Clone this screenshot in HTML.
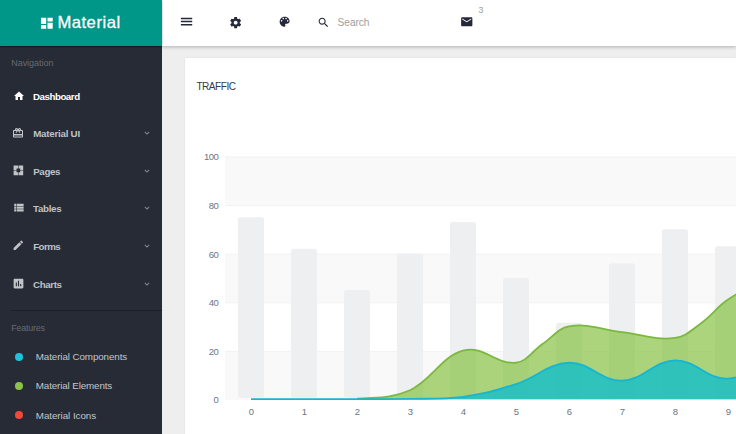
<!DOCTYPE html>
<html><head><meta charset="utf-8"><title>Material</title>
<style>
html,body{margin:0;padding:0}
body{width:736px;height:434px;overflow:hidden;position:relative;background:#eeeeee;font-family:"Liberation Sans",Arial,sans-serif;}
.ic{position:absolute;display:block;overflow:visible}
.t{position:absolute;white-space:nowrap;line-height:20px}
#logot{-webkit-text-stroke:0.3px #fff}
#side{position:absolute;left:0;top:0;width:162px;height:434px;background:#272b35}
#logo{position:absolute;left:0;top:0;width:162px;height:46px;background:#009688;box-shadow:0 1px 1.5px rgba(0,0,0,.45)}
#top{position:absolute;left:162px;top:0;width:574px;height:46px;background:#fff;box-shadow:0 1.5px 3.5px rgba(0,0,0,.24)}
.dot{position:absolute;left:14.5px;width:8px;height:8px;border-radius:50%}
#hr{position:absolute;left:11px;top:309.6px;width:151px;height:1.2px;background:#1c1f26}
#card{position:absolute;left:184.5px;top:57.8px;width:600px;height:420px;background:#fff;box-shadow:0 0.5px 1.5px rgba(0,0,0,.14);border-radius:1px}
#chart{position:absolute;left:0;top:0;width:736px;height:434px}
.ax{font-family:"Liberation Sans",Arial,sans-serif;font-size:9.5px;fill:#6b7684;letter-spacing:-0.55px}
</style></head><body>
<div id="top"></div>
<div id="card"></div>
<div class="t" id="traffic" style="left:196.40px;top:76.50px;font-size:10.1px;font-weight:normal;color:#363949;letter-spacing:-0.487px">TRAFFIC</div>
<svg id="chart" viewBox="0 0 736 434">
<rect x="225" y="157.00" width="520" height="48.60" fill="#f9f9f9"/>
<rect x="225" y="254.20" width="520" height="48.60" fill="#f9f9f9"/>
<rect x="225" y="351.40" width="520" height="48.60" fill="#f9f9f9"/>
<rect x="225" y="350.90" width="520" height="1" fill="#f2f2f2"/>
<rect x="225" y="302.30" width="520" height="1" fill="#f2f2f2"/>
<rect x="225" y="253.70" width="520" height="1" fill="#f2f2f2"/>
<rect x="225" y="205.10" width="520" height="1" fill="#f2f2f2"/>
<rect x="225" y="156.50" width="520" height="1" fill="#f2f2f2"/>
<rect x="238.00" y="217.15" width="26" height="180.85" rx="2.5" fill="#edeff1"/>
<rect x="291.00" y="248.74" width="26" height="149.26" rx="2.5" fill="#edeff1"/>
<rect x="344.00" y="290.05" width="26" height="107.95" rx="2.5" fill="#edeff1"/>
<rect x="397.00" y="253.60" width="26" height="144.40" rx="2.5" fill="#edeff1"/>
<rect x="450.00" y="222.01" width="26" height="175.99" rx="2.5" fill="#edeff1"/>
<rect x="503.00" y="277.90" width="26" height="120.10" rx="2.5" fill="#edeff1"/>
<rect x="556.00" y="322.85" width="26" height="75.15" rx="2.5" fill="#edeff1"/>
<rect x="609.00" y="263.32" width="26" height="134.68" rx="2.5" fill="#edeff1"/>
<rect x="662.00" y="229.30" width="26" height="168.70" rx="2.5" fill="#edeff1"/>
<rect x="715.00" y="246.31" width="26" height="151.69" rx="2.5" fill="#edeff1"/>
<path d="M251.00,400.00 C272.20,400.00 282.80,400.00 304.00,400.00 C325.20,399.90 335.80,400.00 357.00,399.51 C378.20,397.72 388.80,400.00 410.00,391.01 C431.20,381.39 441.80,356.89 463.00,351.40 C484.20,345.91 494.80,365.30 516.00,363.55 C526.60,362.68 531.90,352.13 542.50,344.84 C553.10,337.55 558.40,328.69 569.00,327.10 C590.20,323.92 600.80,330.60 622.00,332.93 C643.20,335.26 653.80,341.23 675.00,338.76 C685.60,337.53 690.90,331.38 701.50,323.70 C712.10,316.02 717.40,307.37 728.00,300.37 C749.20,286.37 759.80,282.87 781.00,271.21 L781.00,400.00 L251.00,400.00 Z" fill="#8bc34a" fill-opacity="0.72" transform="translate(0,-0.8)"/>
<path d="M357.00,399.51 C378.20,397.72 388.80,400.00 410.00,391.01 C431.20,381.39 441.80,356.89 463.00,351.40 C484.20,345.91 494.80,365.30 516.00,363.55 C526.60,362.68 531.90,352.13 542.50,344.84 C553.10,337.55 558.40,328.69 569.00,327.10 C590.20,323.92 600.80,330.60 622.00,332.93 C643.20,335.26 653.80,341.23 675.00,338.76 C685.60,337.53 690.90,331.38 701.50,323.70 C712.10,316.02 717.40,307.37 728.00,300.37 C749.20,286.37 759.80,282.87 781.00,271.21" fill="none" stroke="#7cb83f" stroke-width="1.8" transform="translate(0,-0.8)"/>
<path d="M251.00,400.00 C272.20,400.00 282.80,400.00 304.00,400.00 C325.20,400.00 335.80,400.00 357.00,400.00 C378.20,399.95 388.80,400.00 410.00,399.76 C431.20,399.27 441.80,400.00 463.00,397.57 C484.20,394.61 494.80,391.74 516.00,384.93 C537.20,378.13 547.80,364.23 569.00,363.55 C590.20,362.87 600.80,382.02 622.00,381.53 C643.20,381.05 653.80,361.56 675.00,361.12 C696.20,360.68 706.80,380.80 728.00,379.35 C749.20,377.89 759.80,364.04 781.00,353.83 L781.00,400.00 L251.00,400.00 Z" fill="#00bcd4" fill-opacity="0.72" transform="translate(0,-0.8)"/>
<path d="M251.00,400.00 C272.20,400.00 282.80,400.00 304.00,400.00 C325.20,400.00 335.80,400.00 357.00,400.00 C378.20,399.95 388.80,400.00 410.00,399.76 C431.20,399.27 441.80,400.00 463.00,397.57 C484.20,394.61 494.80,391.74 516.00,384.93 C537.20,378.13 547.80,364.23 569.00,363.55 C590.20,362.87 600.80,382.02 622.00,381.53 C643.20,381.05 653.80,361.56 675.00,361.12 C696.20,360.68 706.80,380.80 728.00,379.35 C749.20,377.89 759.80,364.04 781.00,353.83" fill="none" stroke="#16b6d0" stroke-width="1.8" transform="translate(0,-0.8)"/>
<text x="218.2" y="403.30" text-anchor="end" class="ax">0</text>
<text x="218.2" y="354.70" text-anchor="end" class="ax">20</text>
<text x="218.2" y="306.10" text-anchor="end" class="ax">40</text>
<text x="218.2" y="257.50" text-anchor="end" class="ax">60</text>
<text x="218.2" y="208.90" text-anchor="end" class="ax">80</text>
<text x="218.2" y="160.30" text-anchor="end" class="ax">100</text>
<text x="251.00" y="415" text-anchor="middle" class="ax">0</text>
<text x="304.00" y="415" text-anchor="middle" class="ax">1</text>
<text x="357.00" y="415" text-anchor="middle" class="ax">2</text>
<text x="410.00" y="415" text-anchor="middle" class="ax">3</text>
<text x="463.00" y="415" text-anchor="middle" class="ax">4</text>
<text x="516.00" y="415" text-anchor="middle" class="ax">5</text>
<text x="569.00" y="415" text-anchor="middle" class="ax">6</text>
<text x="622.00" y="415" text-anchor="middle" class="ax">7</text>
<text x="675.00" y="415" text-anchor="middle" class="ax">8</text>
<text x="728.00" y="415" text-anchor="middle" class="ax">9</text>
</svg>
<svg class="ic" style="left:178.55px;top:14.45px;width:15.10px;height:15.10px" viewBox="0 0 24 24"><path fill="#25283a" d="M3 5.8h18v2.4H3z M3 10.8h18v2.4H3z M3 15.8h18v2.4H3z"/></svg>
<svg class="ic" style="left:229.15px;top:15.65px;width:13.30px;height:13.30px" viewBox="0 0 24 24"><path fill="#25283a" d="M19.43 12.98c.04-.32.07-.64.07-.98s-.03-.66-.07-.98l2.11-1.65c.19-.15.24-.42.12-.64l-2-3.46c-.12-.22-.39-.3-.61-.22l-2.49 1c-.52-.4-1.08-.73-1.69-.98l-.38-2.65C14.46 2.18 14.25 2 14 2h-4c-.25 0-.46.18-.49.42l-.38 2.65c-.61.25-1.17.59-1.69.98l-2.49-1c-.23-.09-.49 0-.61.22l-2 3.46c-.13.22-.07.49.12.64l2.11 1.65c-.04.32-.07.65-.07.98s.03.66.07.98l-2.11 1.65c-.19.15-.24.42-.12.64l2 3.46c.12.22.39.3.61.22l2.49-1c.52.4 1.08.73 1.69.98l.38 2.65c.03.24.24.42.49.42h4c.25 0 .46-.18.49-.42l.38-2.650c.61-.25 1.17-.59 1.69-.98l2.49 1c.23.09.49 0 .61-.22l2-3.46c.12-.22.07-.49-.12-.64l-2.110-1.650zM12 15.500c-1.930 0-3.500-1.570-3.500-3.500s1.570-3.500 3.500-3.500 3.500 1.570 3.500 3.500-1.570 3.500-3.500 3.500z"/></svg>
<svg class="ic" style="left:278.35px;top:15.35px;width:13.30px;height:13.30px" viewBox="0 0 24 24"><path fill="#25283a" d="M12 3c-4.97 0-9 4.03-9 9s4.03 9 9 9c.83 0 1.5-.67 1.5-1.5 0-.39-.15-.74-.39-1.010-.23-.26-.38-.61-.38-.99 0-.83.67-1.500 1.500-1.500H16c2.760 0 5-2.240 5-5 0-4.420-4.030-8-9-8zm-5.500 9c-.83 0-1.500-.67-1.500-1.500S5.670 9 6.500 9 8 9.670 8 10.500 7.330 12 6.500 12zm3-4C8.670 8 8 7.330 8 6.500S8.670 5 9.500 5s1.500.67 1.500 1.500S10.330 8 9.500 8zm5 0c-.83 0-1.500-.67-1.500-1.500S13.670 5 14.500 5s1.500.67 1.500 1.500S15.330 8 14.500 8zm3 4c-.83 0-1.500-.67-1.500-1.500S16.670 9 17.500 9s1.500.67 1.500 1.500-.67 1.500-1.500 1.500z"/></svg>
<svg class="ic" style="left:317.40px;top:15.80px;width:13.00px;height:13.00px" viewBox="0 0 24 24"><path fill="#25283a" d="M15.5 14h-.79l-.28-.27C15.41 12.59 16 11.11 16 9.500 16 5.910 13.090 3 9.500 3S3 5.910 3 9.500 5.910 16 9.500 16c1.610 0 3.090-.59 4.230-1.570l.27.28v.79l5 4.990L20.490 19l-4.990-5zm-6 0C7.010 14 5 11.990 5 9.500S7.010 5 9.500 5 14 7.010 14 9.500 11.990 14 9.500 14z"/></svg>
<svg class="ic" style="left:459.85px;top:15.15px;width:13.50px;height:13.50px" viewBox="0 0 24 24"><path fill="#25283a" d="M20 4H4c-1.1 0-1.99.9-1.990 2L2 18c0 1.100.9 2 2 2h16c1.100 0 2-.9 2-2V6c0-1.100-.9-2-2-2zm0 4l-8 5-8-5V6l8 5 8-5v2z"/></svg>
<div class="t" id="search" style="left:337.60px;top:12.50px;font-size:10.2px;font-weight:normal;color:#9e9e9e;letter-spacing:-0.076px">Search</div>
<div class="t" id="badge" style="left:478.40px;top:0.00px;font-size:8.6px;font-weight:normal;color:#9a9a9a;letter-spacing:0.000px">3</div>
<div id="side">
<div id="logo"></div>
<svg class="ic" style="left:38.95px;top:15.65px;width:15.70px;height:14.60px" viewBox="0 0 24 24" preserveAspectRatio="none"><path fill="#ffffff" d="M3 13h8V3H3v10zm0 8h8v-6H3v6zm10 0h8V11h-8v10zm0-18v6h8V3h-8z"/></svg>
<div class="t" id="logot" style="left:57.40px;top:12.50px;font-size:16.6px;font-weight:normal;color:#ffffff;letter-spacing:0.524px">Material</div>
<div class="t" id="navl" style="left:11.20px;top:53.00px;font-size:9.0px;font-weight:normal;color:#666a72;letter-spacing:-0.026px">Navigation</div>
<svg class="ic" style="left:12.50px;top:89.70px;width:12.00px;height:12.00px" viewBox="0 0 24 24"><path fill="#ffffff" d="M10 20v-6h4v6h5v-8h3L12 3 2 12h3v8z"/></svg>
<div class="t" id="n0" style="left:33.00px;top:86.50px;font-size:9.75px;font-weight:bold;color:#ffffff;letter-spacing:-0.480px">Dashboard</div>
<svg class="ic" style="left:12.40px;top:127.00px;width:12.00px;height:12.00px" viewBox="0 0 24 24"><path fill="#c0c3c8" d="M20 6h-2.18c.11-.31.18-.65.18-1 0-1.66-1.34-3-3-3-1.05 0-1.96.54-2.5 1.35l-.5.67-.5-.68C10.96 2.54 10.05 2 9 2 7.34 2 6 3.34 6 5c0 .35.07.69.18 1H4c-1.11 0-1.99.89-1.99 2L2 19c0 1.11.89 2 2 2h16c1.11 0 2-.89 2-2V8c0-1.11-.89-2-2-2zm-5-2c.55 0 1 .45 1 1s-.45 1-1 1-1-.45-1-1 .45-1 1-1zM9 4c.55 0 1 .45 1 1s-.45 1-1 1-1-.45-1-1 .45-1 1-1zm11 15H4v-2h16v2zm0-5H4V8h5.08L7 10.83 8.62 12 11 8.76l1-1.36 1 1.36L15.38 12 17 10.83 14.92 8H20v6z"/></svg>
<div class="t" id="n1" style="left:33.20px;top:123.50px;font-size:9.75px;font-weight:bold;color:#bfc2c8;letter-spacing:-0.241px">Material UI</div>
<svg class="ic" style="left:143.00px;top:129.90px;width:8px;height:6px" viewBox="0 0 8 6"><path d="M1.8 1.9 L4 4.1 L6.2 1.9" fill="none" stroke="#80868f" stroke-width="1.05"/></svg>
<svg class="ic" style="left:12.00px;top:164.00px;width:12.80px;height:12.80px" viewBox="0 0 24 24"><path fill="#c0c3c8" d="M3 3H11.5V8.6H8.6V11.5H3Z M12.5 3H21V11.5H15.4V8.6H12.5Z M3 12.5H8.6V15.4H11.5V21H3Z M15.4 12.5H21V21H12.5V15.4H15.4Z"/></svg>
<div class="t" id="n2" style="left:33.20px;top:161.50px;font-size:9.75px;font-weight:bold;color:#bfc2c8;letter-spacing:-0.359px">Pages</div>
<svg class="ic" style="left:143.00px;top:167.60px;width:8px;height:6px" viewBox="0 0 8 6"><path d="M1.8 1.9 L4 4.1 L6.2 1.9" fill="none" stroke="#80868f" stroke-width="1.05"/></svg>
<svg class="ic" style="left:11.60px;top:201.40px;width:13.30px;height:13.30px" viewBox="0 0 24 24"><path fill="#c0c3c8" d="M4 14h4v-4H4v4zm0 5h4v-4H4v4zM4 9h4V5H4v4zm5 5h12v-4H9v4zm0 5h12v-4H9v4zM9 5v4h12V5H9z"/></svg>
<div class="t" id="n3" style="left:33.00px;top:198.50px;font-size:9.75px;font-weight:bold;color:#bfc2c8;letter-spacing:-0.314px">Tables</div>
<svg class="ic" style="left:143.00px;top:205.20px;width:8px;height:6px" viewBox="0 0 8 6"><path d="M1.8 1.9 L4 4.1 L6.2 1.9" fill="none" stroke="#80868f" stroke-width="1.05"/></svg>
<svg class="ic" style="left:12.20px;top:239.30px;width:12.60px;height:12.60px" viewBox="0 0 24 24"><path fill="#c0c3c8" d="M3 17.25V21h3.75L17.81 9.94l-3.75-3.75L3 17.25zM20.71 7.04c.39-.39.39-1.02 0-1.41l-2.34-2.34c-.39-.39-1.02-.39-1.41 0l-1.83 1.83 3.75 3.75 1.83-1.83z"/></svg>
<div class="t" id="n4" style="left:33.20px;top:236.50px;font-size:9.75px;font-weight:bold;color:#bfc2c8;letter-spacing:-0.578px">Forms</div>
<svg class="ic" style="left:143.00px;top:242.70px;width:8px;height:6px" viewBox="0 0 8 6"><path d="M1.8 1.9 L4 4.1 L6.2 1.9" fill="none" stroke="#80868f" stroke-width="1.05"/></svg>
<svg class="ic" style="left:12.00px;top:276.70px;width:13.00px;height:13.00px" viewBox="0 0 24 24"><path fill="#c0c3c8" d="M19 3H5c-1.1 0-2 .9-2 2v14c0 1.1.9 2 2 2h14c1.1 0 2-.9 2-2V5c0-1.1-.9-2-2-2zM9 17H7v-7h2v7zm4 0h-2V7h2v10zm4 0h-2v-4h2v4z"/></svg>
<div class="t" id="n5" style="left:33.00px;top:274.50px;font-size:9.75px;font-weight:bold;color:#bfc2c8;letter-spacing:-0.378px">Charts</div>
<svg class="ic" style="left:143.00px;top:280.60px;width:8px;height:6px" viewBox="0 0 8 6"><path d="M1.8 1.9 L4 4.1 L6.2 1.9" fill="none" stroke="#80868f" stroke-width="1.05"/></svg>
<div id="hr"></div>
<div class="t" id="featl" style="left:11.30px;top:318.00px;font-size:9.0px;font-weight:normal;color:#666a72;letter-spacing:-0.247px">Features</div>
<div class="dot" style="top:352.50px;background:#1fc2de"></div><div class="t" id="f0" style="left:35.80px;top:346.50px;font-size:9.8px;font-weight:normal;color:#c3c6cb;letter-spacing:-0.096px">Material Components</div>
<div class="dot" style="top:382.00px;background:#8bc34a"></div><div class="t" id="f1" style="left:35.80px;top:375.50px;font-size:9.8px;font-weight:normal;color:#c3c6cb;letter-spacing:-0.125px">Material Elements</div>
<div class="dot" style="top:411.40px;background:#f4473a"></div><div class="t" id="f2" style="left:35.80px;top:405.50px;font-size:9.8px;font-weight:normal;color:#c3c6cb;letter-spacing:-0.053px">Material Icons</div>
</div>
</body></html>
